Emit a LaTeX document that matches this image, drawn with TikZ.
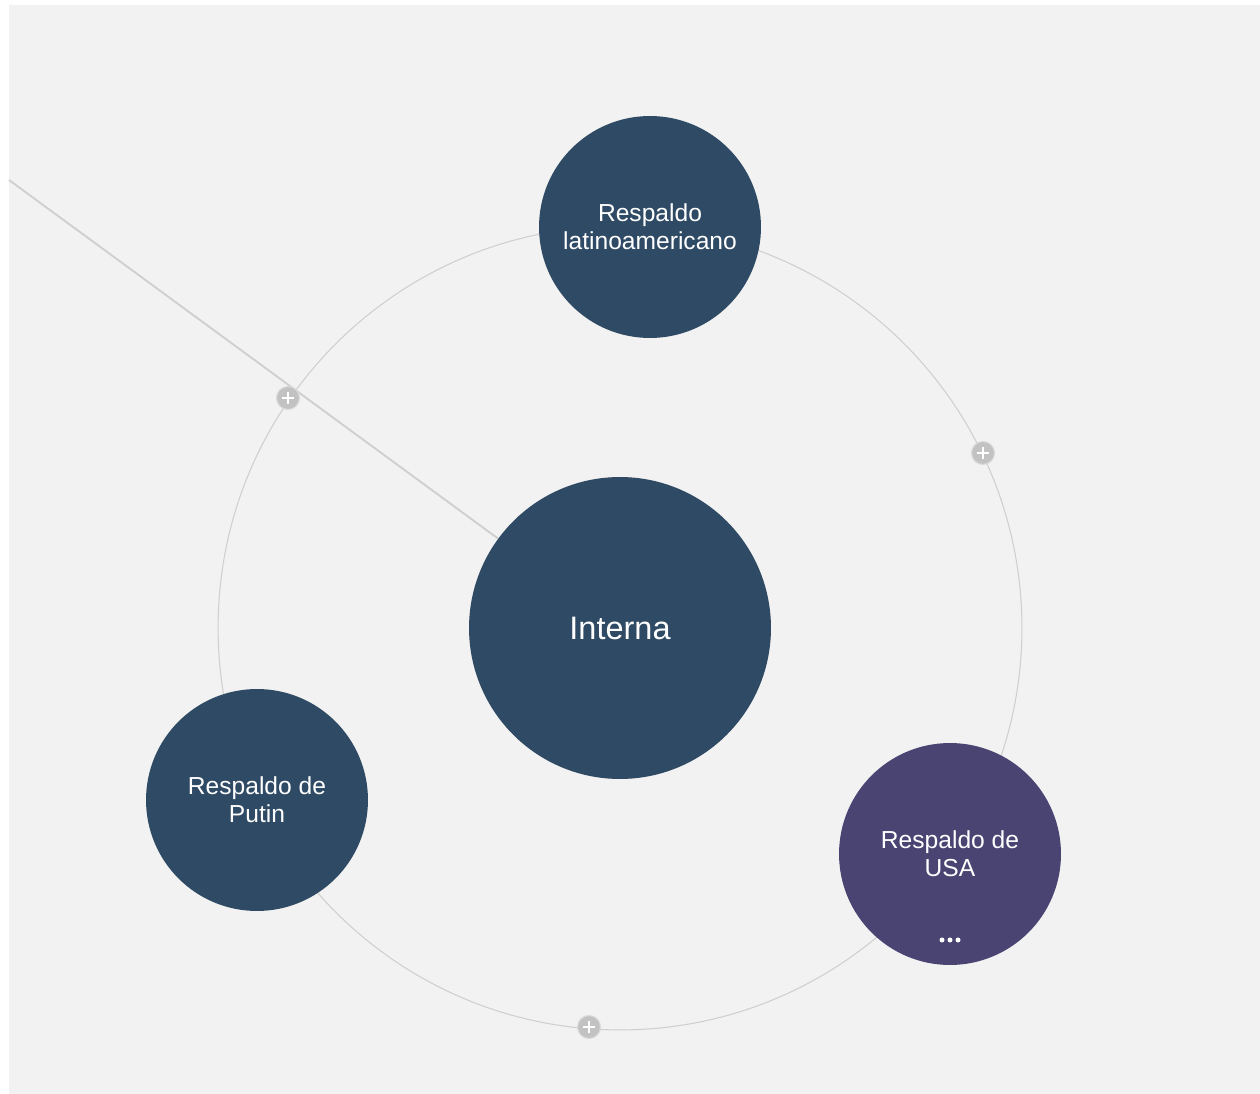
\documentclass[tikz,border=0pt]{standalone}
\usepackage{fontspec}
\setmainfont{Liberation Sans}
\definecolor{bubble}{HTML}{2F4A64}
\definecolor{bubbleusa}{HTML}{4A4473}
\definecolor{paper}{HTML}{F2F2F2}
\definecolor{orbitgray}{HTML}{CFCFCF}
\definecolor{tailgray}{HTML}{D0D0D0}
\definecolor{plusgray}{HTML}{C2C2C2}
\newcommand{\plusicon}[2]{%
 \node[plusdot] ({#1}) at ({#2}) {};%
 \draw[white,line width=1.5pt] ([xshift=-.12cm]#1.center) -- ([xshift=.12cm]#1.center);%
 \draw[white,line width=1.5pt] ([yshift=-.12cm]#1.center) -- ([yshift=.12cm]#1.center);%
}

\begin{document}
\begin{tikzpicture}[x=0.02cm,y=-0.02cm,
  bubble/.style={circle,fill=bubble,inner sep=0pt,text=white,align=center},
  smallbubble/.style={bubble,minimum size=4.44cm,font=\fontsize{14}{16}\selectfont},
  plusdot/.style={circle,fill=plusgray,draw=white!40!plusgray,line width=.6pt,minimum size=0.46cm,inner sep=0pt}]
   \useasboundingbox (0,0) rectangle (1260,1094);
   \fill[white] (0,0) rectangle (1260,1094);
   \fill[paper] (9,5) rectangle (1260,1094);
   \coordinate (hub) at (620,628);
   \coordinate (tail) at (9,180);
   \draw[orbitgray,line width=.6pt] (hub) circle[radius=8.04cm];
   \node[bubble,minimum size=6.04cm,font=\fontsize{18.5}{22}\selectfont] (interna) at (hub) {Interna};
   \node[smallbubble] (lat) at (650,227) {Respaldo\\latinoamericano};
   \node[smallbubble] (putin) at (257,800) {Respaldo de\\Putin};
   \node[smallbubble,fill=bubbleusa] (usa) at (950,854) {Respaldo de\\USA};
   \foreach \dx in {-.16,0,.16}
     \fill[white] ([shift={(\dx cm,-1.72cm)}]usa.center) circle (.05cm);
   \draw[tailgray,line width=1.1pt] (tail) -- (interna);
   \plusicon{p1}{288,398};
   \plusicon{p2}{983,453};
   \plusicon{p3}{589,1027};
\end{tikzpicture}
\end{document}
